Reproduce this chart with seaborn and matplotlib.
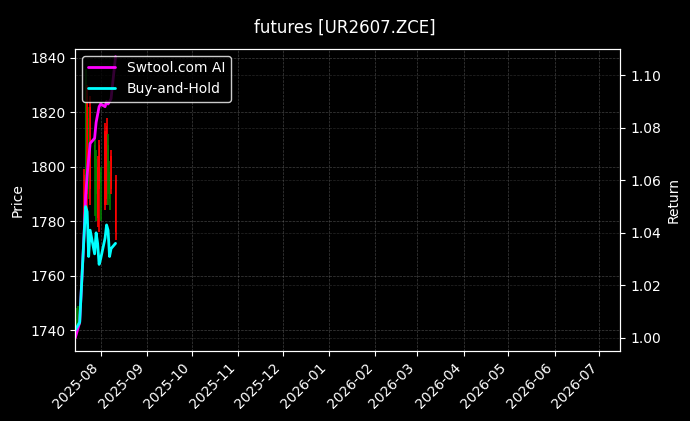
import matplotlib
matplotlib.use("Agg")
import matplotlib.pyplot as plt
import matplotlib.dates as mdates
import numpy as np
import pandas as pd
import seaborn as sns

# ---- data ----
dates = ["2025-07-15", "2025-07-16", "2025-07-17", "2025-07-18", "2025-07-21",
         "2025-07-22", "2025-07-23", "2025-07-24", "2025-07-25", "2025-07-28",
         "2025-07-29", "2025-07-30", "2025-07-31", "2025-08-01", "2025-08-04",
         "2025-08-05", "2025-08-06", "2025-08-07", "2025-08-08", "2025-08-11"]
open_ = [1740, 1742, 1744, 1746, 1797, 1788, 1826, 1792, 1822, 1800,
         1790, 1800, 1808, 1794, 1813, 1815, 1790, 1788, 1804, 1795]
high = [1746, 1748, 1749, 1750, 1799, 1836, 1830, 1822, 1826, 1812,
        1806, 1804, 1810, 1800, 1816, 1818, 1812, 1802, 1806, 1797]
low = [1737, 1739, 1741, 1742, 1771, 1786, 1784, 1788, 1786, 1782,
       1780, 1778, 1776, 1780, 1784, 1786, 1786, 1784, 1790, 1773]
close = [1742, 1744, 1746, 1748, 1783, 1832, 1790, 1818, 1792, 1808,
         1803, 1781, 1792, 1798, 1786, 1788, 1808, 1798, 1792, 1776]
buy_hold = [1.003, 1.004, 1.005, 1.006, 1.040, 1.050, 1.048, 1.031, 1.041, 1.032,
            1.040, 1.036, 1.028, 1.030, 1.038, 1.043, 1.041, 1.031, 1.034, 1.036]
strategy = [1.000, 1.002, 1.004, 1.006, 1.040, 1.054, 1.062, 1.068, 1.074, 1.076,
            1.082, 1.085, 1.088, 1.089, 1.088, 1.090, 1.089, 1.090, 1.091, 1.107]
title = "futures [UR2607.ZCE]"
xlim = ("2025-07-15", "2026-07-15")

# ---- build ----
df = pd.DataFrame({"date": pd.to_datetime(dates), "open": open_, "high": high,
                   "low": low, "close": close,
                   "Swtool.com AI": strategy, "Buy-and-Hold": buy_hold})

plt.style.use("dark_background")
sns.set_style("dark", {"axes.facecolor": "black", "figure.facecolor": "black",
                       "axes.edgecolor": "white", "text.color": "white",
                       "axes.labelcolor": "white", "xtick.color": "white",
                       "ytick.color": "white", "xtick.bottom": True,
                       "ytick.left": True})
plt.rcParams["font.family"] = ["DejaVu Sans"]

fig = plt.figure(figsize=(6.9, 4.21), dpi=100)
ax = fig.add_axes([0.109, 0.166, 0.79, 0.718])
ax.set_facecolor("black")

up = df["close"] >= df["open"]
colors = np.where(up, "green", "red")
ax.vlines(df["date"], df["low"], df["high"], colors=colors, linewidth=1.2)
ax.bar(df["date"], (df["close"] - df["open"]).abs().clip(lower=0.5),
       bottom=np.minimum(df["open"], df["close"]), width=0.8, color=colors,
       edgecolor=colors, linewidth=0)
ax.set_ylabel("Price", color="white")
ax.set_ylim(1732.3, 1843.3)
ax.grid(True, color="gray", linestyle="--", linewidth=0.5, alpha=0.5)

ax2 = ax.twinx()
long = df.melt(id_vars="date", value_vars=["Swtool.com AI", "Buy-and-Hold"],
               var_name="series", value_name="ret")
sns.lineplot(data=long, x="date", y="ret", hue="series",
             palette={"Swtool.com AI": "magenta", "Buy-and-Hold": "cyan"},
             linewidth=2, ax=ax2)
ax2.set_ylabel("Return", color="white")
ax2.set_xlabel("")
ax2.set_ylim(0.995, 1.11)
ax2.grid(True, color="gray", linestyle="--", linewidth=0.5, alpha=0.3)
ax2.set_yticks([1.00, 1.02, 1.04, 1.06, 1.08, 1.10])
ax2.set_yticklabels(["1.00", "1.02", "1.04", "1.06", "1.08", "1.10"])

h, l = ax2.get_legend_handles_labels()
ax2.legend(h, l, loc="upper left", facecolor="black", edgecolor="white",
           framealpha=0.8, fontsize=10)

ax.set_xlim(pd.Timestamp(xlim[0]), pd.Timestamp(xlim[1]))
ax.xaxis.set_major_locator(mdates.MonthLocator())
ax.xaxis.set_major_formatter(mdates.DateFormatter("%Y-%m"))
for lab in ax.get_xticklabels():
    lab.set_rotation(45)
    lab.set_ha("right")
ax2.tick_params(axis="x", which="both", bottom=False, labelbottom=False)
for a in (ax, ax2):
    for s in a.spines.values():
        s.set_color("white")

fig.suptitle(title, color="white", fontsize=12, y=0.955)
fig.savefig("out.png", dpi=100, facecolor="black")
